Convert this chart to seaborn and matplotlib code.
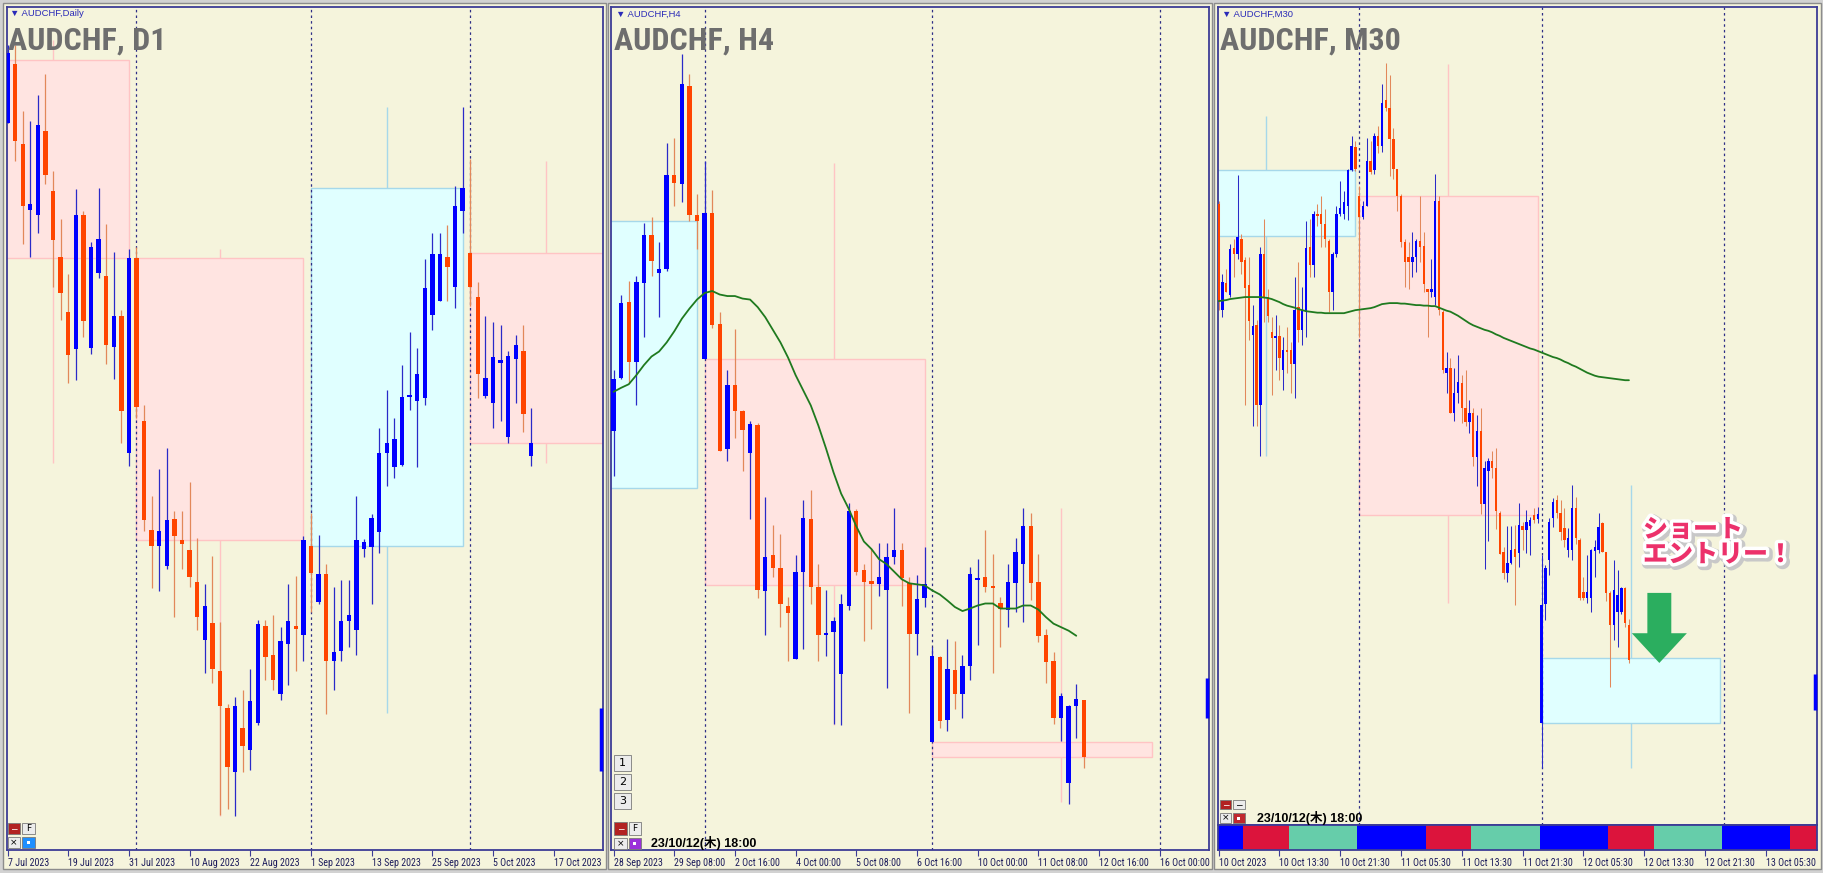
import numpy as np
import pandas as pd
import matplotlib
matplotlib.use("Agg")
import matplotlib.pyplot as plt
import matplotlib.patheffects as pe
from matplotlib import font_manager as fm
from matplotlib.patches import Rectangle, FancyArrow
import seaborn as sns

# 1. Candle data (prices in chart units)
# --- AUDCHF D1 (7 Jul .. 12 Oct 2023)
d1_open = [1435, 1552, 1393, 1262, 1252, 1419, 1300, 1170, 1060, 987,
           1252, 988, 1138, 1132, 990, 1052, 780, 1168, 845, 628,
           597, 557, 650, 607, 588, 524, 410, 443, 348, 274,
           148, 235, 192, 245, 437, 380, 302, 402, 437, 420,
           597, 485, 540, 368, 387, 448, 430, 590, 595, 623,
           780, 752, 757, 892, 883, 890, 1055, 1083, 1170, 1110,
           1260, 1177, 1090, 894, 880, 960, 813, 968, 983, 775]
d1_high = [1590, 1590, 1460, 1440, 1490, 1533, 1340, 1245, 1135, 1305,
           1260, 1200, 1307, 1235, 1180, 1065, 1185, 1190, 875, 695,
           748, 790, 665, 665, 723, 612, 520, 577, 445, 282,
           297, 310, 353, 450, 450, 460, 435, 520, 537, 615,
           662, 618, 560, 515, 528, 528, 695, 610, 660, 830,
           905, 850, 955, 1020, 988, 1165, 1218, 1218, 1232, 1310,
           1467, 1363, 1120, 1053, 1040, 1035, 982, 1015, 1035, 870]
d1_low = [1435, 1360, 1195, 1170, 1217, 1315, 1110, 1045, 920, 925,
          1010, 978, 1128, 957, 927, 800, 755, 850, 625, 513,
          507, 550, 455, 550, 515, 430, 345, 325, 62, 75,
          60, 148, 152, 240, 330, 310, 290, 320, 348, 368,
          465, 480, 262, 310, 368, 395, 380, 575, 480, 583,
          715, 730, 755, 865, 752, 875, 1025, 1082, 1083, 1068,
          1217, 1073, 890, 890, 830, 845, 800, 880, 822, 755]
d1_close = [1575, 1400, 1270, 1274, 1432, 1332, 1203, 1098, 975, 1252,
            1043, 1190, 1205, 995, 1053, 864, 1168, 872, 647, 597,
            625, 648, 615, 600, 535, 455, 477, 352, 278, 157,
            278, 200, 288, 442, 375, 330, 407, 448, 432, 608,
            542, 540, 368, 385, 448, 460, 607, 604, 652, 780,
            800, 808, 892, 895, 937, 1107, 1175, 1175, 1150, 1270,
            1307, 1110, 938, 929, 972, 965, 973, 995, 858, 800]
# monthly blocks drawn behind the daily candles
d1_blk_start = [-4, 17, 40, 61]
d1_blk_end = [16, 39, 60, 82]
d1_blk_mid = [6, 28, 50, 71]
d1_blk_open = [1560, 1168, 597, 1177]
d1_blk_high = [1600, 1185, 1467, 1360]
d1_blk_low = [760, 60, 265, 760]
d1_blk_close = [1168, 608, 1307, 800]
d1_seps = [17, 40, 61]
d1_edge = [150, 275]
d1_ticks = ["7 Jul 2023", "19 Jul 2023", "31 Jul 2023", "10 Aug 2023", "22 Aug 2023",
            "1 Sep 2023", "13 Sep 2023", "25 Sep 2023", "5 Oct 2023", "17 Oct 2023"]

# --- AUDCHF H4 (28 Sep .. 12 Oct)
h4_open = [825, 930, 1080, 962, 1117, 1213, 1138, 1145, 1332, 1315,
           1509, 1252, 967, 1257, 1037, 788, 915, 863, 780, 837,
           507, 578, 552, 478, 372, 545, 650, 515, 420, 425,
           342, 478, 665, 548, 527, 520, 508, 575, 588, 523,
           422, 492, 208, 375, 250, 350, 302, 357, 528, 535,
           517, 482, 470, 522, 560, 635, 525, 420, 367, 255,
           125, 278, 290]
h4_high = [945, 1095, 1122, 1132, 1237, 1248, 1200, 1395, 1405, 1572,
           1532, 1295, 1360, 1302, 1060, 945, 1027, 865, 845, 840,
           693, 638, 620, 495, 578, 688, 707, 560, 508, 455,
           500, 682, 670, 560, 590, 602, 602, 672, 602, 535,
           538, 595, 395, 378, 412, 408, 380, 555, 570, 628,
           580, 495, 560, 612, 672, 662, 580, 432, 385, 305,
           280, 322, 290]
h4_low = [735, 928, 920, 875, 1010, 1132, 1050, 1142, 1270, 1278,
          1240, 1185, 967, 1028, 785, 765, 810, 745, 650, 492,
          420, 535, 435, 368, 372, 392, 480, 367, 378, 242,
          240, 470, 538, 408, 432, 497, 315, 560, 478, 265,
          380, 475, 208, 235, 230, 272, 255, 330, 400, 505,
          345, 395, 435, 465, 445, 488, 405, 325, 242, 210,
          85, 215, 155]
h4_close = [928, 1078, 962, 1120, 1213, 1162, 1145, 1332, 1316, 1512,
            1252, 1240, 1257, 1035, 785, 915, 863, 827, 838, 508,
            575, 552, 480, 463, 545, 652, 515, 420, 423, 447,
            480, 665, 545, 525, 520, 535, 575, 588, 532, 422,
            490, 520, 378, 248, 352, 302, 358, 540, 532, 515,
            512, 472, 525, 585, 635, 523, 418, 365, 255, 298,
            278, 292, 178]
h4_ma = [902, 910, 917, 935, 955, 972, 982, 1000, 1022, 1047,
         1067, 1085, 1098, 1102, 1095, 1092, 1092, 1087, 1085, 1070,
         1050, 1025, 1000, 970, 935, 905, 875, 835, 790, 742,
         700, 670, 635, 605, 590, 570, 560, 545, 530, 522,
         520, 518, 508, 500, 488, 475, 467, 472, 478, 482,
         482, 472, 472, 472, 478, 478, 470, 455, 442, 435,
         428, 418, np.nan]
# weekly blocks
h4_blk_start = [-18, 12, 42]
h4_blk_end = [11, 41, 71]
h4_blk_mid = [-1, 29, 59]
h4_blk_open = [712, 967, 208]
h4_blk_high = [1572, 1355, 672]
h4_blk_low = [640, 240, 88]
h4_blk_close = [1240, 518, 178]
h4_seps = [12, 42, 72]
h4_edge = [255, 335]
h4_ticks = ["28 Sep 2023", "29 Sep 08:00", "2 Oct 16:00", "4 Oct 00:00", "5 Oct 08:00",
            "6 Oct 16:00", "10 Oct 00:00", "11 Oct 08:00", "12 Oct 16:00", "16 Oct 00:00"]

# --- AUDCHF M30 (10 Oct 05:30 .. 12 Oct 18:00)
m30_open = [1275, 1065, 1118, 1095, 1188, 1175, 1205, 1163, 1113, 1015,
            1035, 875, 1175, 1090, 1020, 1008, 1012, 945, 985, 985,
            958, 1070, 1025, 1060, 1190, 1153, 1255, 1255, 1235, 1202,
            1100, 1175, 1255, 1255, 1270, 1342, 1388, 1290, 1248, 1270,
            1360, 1342, 1410, 1390, 1480, 1465, 1403, 1345, 1290, 1200,
            1170, 1160, 1170, 1202, 1192, 1105, 1100, 1090, 1280, 1060,
            940, 950, 860, 900, 920, 870, 843, 860, 772, 825,
            680, 745, 765, 750, 662, 585, 542, 562, 590, 582,
            636, 628, 636, 658, 649, 244, 481, 568, 651, 687,
            661, 631, 588, 588, 671, 608, 505, 492, 492, 587,
            588, 641, 585, 502, 439, 466, 466, 512, 439]
m30_high = [1280, 1135, 1145, 1195, 1205, 1332, 1215, 1170, 1170, 1075,
            1045, 1190, 1245, 1105, 1050, 1055, 1035, 1010, 1030, 1000,
            1130, 1160, 1110, 1240, 1245, 1260, 1275, 1290, 1265, 1205,
            1180, 1270, 1320, 1300, 1345, 1410, 1400, 1310, 1280, 1405,
            1400, 1415, 1430, 1512, 1555, 1530, 1425, 1345, 1295, 1205,
            1200, 1220, 1205, 1290, 1220, 1105, 1165, 1335, 1290, 1065,
            980, 970, 950, 975, 935, 945, 885, 870, 855, 870,
            765, 770, 785, 790, 665, 595, 635, 635, 638, 681,
            644, 667, 654, 671, 674, 578, 558, 651, 691, 697,
            687, 671, 631, 717, 694, 611, 535, 578, 591, 608,
            661, 644, 585, 506, 568, 548, 515, 515, 452]
m30_low = [1065, 1050, 1100, 1090, 1130, 1165, 1135, 875, 1005, 835,
           835, 775, 1040, 1040, 895, 945, 925, 905, 940, 900,
           890, 1000, 995, 1010, 1130, 1130, 1230, 1190, 1190, 1060,
           1065, 1170, 1250, 1245, 1242, 1340, 1340, 1010, 1245, 1270,
           1335, 1335, 1375, 1378, 1460, 1330, 1325, 1260, 1190, 1110,
           1105, 1130, 1140, 1160, 1100, 1010, 1090, 1075, 1055, 940,
           900, 860, 845, 880, 840, 835, 820, 755, 715, 660,
           550, 605, 730, 630, 580, 530, 525, 560, 479, 555,
           588, 582, 578, 641, 641, 155, 449, 538, 634, 651,
           608, 595, 575, 568, 601, 489, 489, 482, 466, 535,
           582, 585, 486, 317, 410, 396, 462, 436, 363]
m30_close = [1080, 1120, 1100, 1185, 1175, 1210, 1160, 1108, 1043, 1032,
             875, 1175, 1090, 1052, 1008, 1012, 970, 985, 980, 958,
             1065, 1025, 1065, 1188, 1153, 1255, 1250, 1235, 1205, 1100,
             1175, 1255, 1267, 1278, 1342, 1390, 1345, 1248, 1270, 1360,
             1338, 1410, 1390, 1475, 1465, 1403, 1345, 1290, 1200, 1160,
             1160, 1170, 1202, 1190, 1115, 1100, 1105, 1280, 1065, 945,
             950, 860, 900, 922, 870, 843, 860, 772, 825, 680,
             750, 765, 750, 665, 580, 542, 562, 588, 575, 638,
             628, 644, 648, 648, 660, 479, 552, 644, 684, 661,
             624, 608, 611, 671, 611, 492, 492, 505, 588, 595,
             634, 585, 502, 439, 509, 499, 513, 444, 370]
m30_ma = [1082, 1083, 1084, 1086, 1087, 1088, 1089, 1090, 1090, 1090, 1090, 1090,
          1089, 1088, 1086, 1083, 1080, 1076, 1073, 1071, 1069, 1066, 1064, 1062,
          1061, 1060, 1059, 1059, 1058, 1058, 1058, 1058, 1058, 1058, 1060, 1062,
          1064, 1065, 1066, 1067, 1068, 1070, 1073, 1076, 1077, 1078, 1078, 1078,
          1077, 1077, 1076, 1075, 1074, 1074, 1073, 1073, 1072, 1072, 1069, 1066,
          1063, 1061, 1057, 1053, 1048, 1043, 1038, 1034, 1031, 1028, 1025, 1023,
          1020, 1016, 1013, 1009, 1006, 1003, 1000, 997, 994, 991, 988, 986,
          983, 980, 977, 974, 971, 969, 966, 962, 959, 955, 952, 948,
          944, 940, 937, 934, 932, 931, 930, 929, 928, 927, 926, 925, 925]
# daily blocks
m30_blk_start = [-11, 37, 85]
m30_blk_end = [36, 84, 132]
m30_blk_mid = [12.5, 60.5, 108.5]
m30_blk_open = [1212, 1290, 244]
m30_blk_high = [1450, 1552, 717]
m30_blk_low = [775, 482, 155]
m30_blk_close = [1342, 658, 373]
m30_seps = [37, 85, 133]
m30_edge = [271, 343]
m30_ticks = ["10 Oct 2023", "10 Oct 13:30", "10 Oct 21:30", "11 Oct 05:30", "11 Oct 13:30",
             "11 Oct 21:30", "12 Oct 05:30", "12 Oct 13:30", "12 Oct 21:30", "13 Oct 05:30"]
# trading sessions (hour of day) for the bar under the M30 chart
session_start = [0, 9, 15]
session_end = [9, 15, 24]
session_color = ["#0000FF", "#DC143C", "#66CDAA"]
m30_first_hour = 5.5
m30_days = [0, 1, 2, 3]

# 2. Style
W, H = 1824, 873
BEIGE = "#F5F4DC"
FRAME = "#3C3C96"
BULL, BULL_WICK = "#0000FF", "#2A2AC8"
BEAR, BEAR_WICK = "#FF4500", "#E2885A"
PINK, PINK_EDGE = "#FFE4E1", "#FFC4C4"
CYAN, CYAN_EDGE = "#E0FFFF", "#A6D8EA"
MA_COLOR = "#1F7A1F"

sns.set_theme(style="white")
plt.rcParams["font.family"] = ["Liberation Sans", "DejaVu Sans"]

# pick a narrow face for the MT4-style labels if one is installed
names = {f.name for f in fm.fontManager.ttflist}
COND, STRETCH = None, "normal"
for nm in ["Liberation Sans Narrow", "Roboto Condensed", "Open Sans Condensed",
           "Noto Sans Condensed", "DejaVu Sans Condensed"]:
    if nm in names:
        COND = nm
        break
if COND is None:
    for f in fm.fontManager.ttflist:
        if str(f.stretch) in ("condensed", "semi-condensed") and f.name in (
                "DejaVu Sans", "Noto Sans", "Open Sans", "Roboto", "Liberation Sans"):
            COND, STRETCH = f.name, "condensed"
            break
if COND is None:
    COND = "Liberation Sans"
    TICK_FS, TITLE_FS = 6.0, 20
else:
    TICK_FS, TITLE_FS = 7.2, 23

fig = plt.figure(figsize=(W / 100, H / 100), dpi=100, facecolor="#D2D2D2")


def box(x0, y0, x1, y1):
    return [x0 / W, 1 - y1 / H, (x1 - x0) / W, (y1 - y0) / H]


def px_rect(x0, y0, x1, y1, **kw):
    fig.add_artist(Rectangle((x0 / W, 1 - y1 / H), (x1 - x0) / W, (y1 - y0) / H,
                             transform=fig.transFigure, **kw))


def px_text(x, y, s, **kw):
    fig.text(x / W, 1 - y / H, s, **kw)


def candles(ax, o, h, l, c, body_w, wick_lw):
    df = pd.DataFrame({"open": o, "high": h, "low": l, "close": c})
    df["bar"] = np.arange(len(df))
    bull = df["close"] > df["open"]
    for mask, body, wick in [(bull, BULL, BULL_WICK), (~bull, BEAR, BEAR_WICK)]:
        part = df[mask]
        ax.vlines(part["bar"], part["low"], part["high"], colors=wick, lw=wick_lw, zorder=2)
        lo = part[["open", "close"]].min(axis=1)
        ht = (part["close"] - part["open"]).abs().clip(lower=3)
        ax.bar(part["bar"], ht, bottom=lo, width=body_w, color=body, lw=0, zorder=3)


def blocks(ax, start, end, mid, o, h, l, c):
    for s, e, m, bo, bh, bl, bc in zip(start, end, mid, o, h, l, c):
        face, edge = (CYAN, CYAN_EDGE) if bc > bo else (PINK, PINK_EDGE)
        ax.vlines(m, bl, bh, colors=edge, lw=1, zorder=0.5)
        ax.add_patch(Rectangle((s, min(bo, bc)), e - s, abs(bc - bo),
                               facecolor=face, edgecolor=edge, lw=1, zorder=0.6))


def ma_line(ax, ma):
    df = pd.DataFrame({"bar": np.arange(len(ma)), "ma": ma}).dropna()
    sns.lineplot(data=df, x="bar", y="ma", ax=ax, color=MA_COLOR, lw=1.3,
                 estimator=None, zorder=4)


def style_frame(ax):
    ax.set_facecolor(BEIGE)
    ax.set_yticks([])
    ax.set_xlabel("")
    ax.set_ylabel("")
    ax.grid(False)
    for sp in ax.spines.values():
        sp.set_color(FRAME)
        sp.set_linewidth(1.3)


def frame(ax, xlim, ylim, seps, edge):
    style_frame(ax)
    ax.set_xlim(*xlim)
    ax.set_ylim(*ylim)
    for s in seps:
        ax.axvline(s, color="#2E2E86", ls=(0, (2, 2.5)), lw=0.9, zorder=1)
    ax.plot([0.997, 0.997], edge, transform=ax.get_yaxis_transform(),
            color=BULL, lw=2.5, solid_capstyle="butt", zorder=5, clip_on=False)


def time_axis(ax, step, labels):
    ax.set_xticks(np.arange(len(labels)) * step)
    ax.set_xticklabels(labels, ha="left", fontsize=TICK_FS, color="#1C1C5C",
                       family=[COND, "DejaVu Sans"], fontstretch=STRETCH)
    ax.tick_params(axis="x", bottom=True, direction="out", length=4, width=0.8,
                   color=FRAME, pad=1.5)


# 3. Window backgrounds
for x0, x1 in [(3, 606), (608, 1212), (1214, 1821)]:
    px_rect(x0, 3, x1, 869, facecolor=BEIGE, edgecolor="#8C8C8C", lw=1, zorder=-1)

YL = (-7.1, 1665.5)

# D1
ax1 = fig.add_axes(box(7, 7, 603, 850))
blocks(ax1, d1_blk_start, d1_blk_end, d1_blk_mid, d1_blk_open, d1_blk_high, d1_blk_low, d1_blk_close)
candles(ax1, d1_open, d1_high, d1_low, d1_close, 0.58, 0.9)
frame(ax1, (-0.07, 78.5), YL, d1_seps, d1_edge)
time_axis(ax1, 8, d1_ticks)

# H4
ax2 = fig.add_axes(box(611, 7, 1209, 850))
blocks(ax2, h4_blk_start, h4_blk_end, h4_blk_mid, h4_blk_open, h4_blk_high, h4_blk_low, h4_blk_close)
candles(ax2, h4_open, h4_high, h4_low, h4_close, 0.58, 0.9)
ma_line(ax2, h4_ma)
frame(ax2, (-0.34, 78.5), YL, h4_seps, h4_edge)
time_axis(ax2, 8, h4_ticks)

# M30 + session bar
ax3 = fig.add_axes(box(1218, 7, 1817, 825))
blocks(ax3, m30_blk_start, m30_blk_end, m30_blk_mid, m30_blk_open, m30_blk_high, m30_blk_low, m30_blk_close)
candles(ax3, m30_open, m30_high, m30_low, m30_close, 0.65, 0.75)
ma_line(ax3, m30_ma)
frame(ax3, (-0.16, 157.5), (42.5, 1665.5), m30_seps, m30_edge)
ax3.set_xticks([])
ax3.tick_params(axis="x", bottom=False, labelbottom=False)
ax3.add_patch(FancyArrow(116, 503, 0, -139, width=6.3, head_width=14.5, head_length=59,
                         length_includes_head=True, color="#2BAE5F", lw=0, zorder=6))

ax4 = fig.add_axes(box(1218, 825, 1817, 850))
for d in m30_days:
    for s, e, col in zip(session_start, session_end, session_color):
        a = (d * 24 + s - m30_first_hour) * 2 - 0.5
        b = (d * 24 + e - m30_first_hour) * 2 - 0.5
        ax4.axvspan(a, b, color=col, lw=0)
style_frame(ax4)
ax4.set_xlim(-0.16, 157.5)
time_axis(ax4, 16, m30_ticks)

# 4. Titles and chart furniture
for x, sub, title in [(8, "AUDCHF,Daily", "AUDCHF, D1"), (614, "AUDCHF,H4", "AUDCHF, H4"),
                      (1220, "AUDCHF,M30", "AUDCHF, M30")]:
    px_text(x + 2, 14, "▼ " + sub, fontsize=6.8, color="#2B2BB8", va="center",
            family=["Liberation Sans", "DejaVu Sans"])
    px_text(x, 50, title, fontsize=TITLE_FS, fontweight="bold", color="#6E6E6E", va="baseline",
            family=[COND, "DejaVu Sans"], fontstretch=STRETCH)


def button(x0, y0, x1, y1, face, label="", tcolor="black", fs=6.5):
    px_rect(x0, y0, x1, y1, facecolor=face, edgecolor="#7A7A7A", lw=0.6, zorder=6)
    if label:
        px_text((x0 + x1) / 2, (y0 + y1) / 2, label, fontsize=fs, color=tcolor,
                ha="center", va="center", zorder=7, family=["DejaVu Sans"])


def dot_button(x0, y0, x1, y1, face):
    button(x0, y0, x1, y1, face)
    cx, cy = (x0 + x1) / 2, (y0 + y1) / 2
    px_rect(cx - 1.5, cy - 1.5, cx + 1.5, cy + 1.5, facecolor="white", lw=0, zorder=7)


# D1 buttons
button(8, 823, 20, 834, "#B22222", "−", "white")
button(22, 823, 35, 834, "#ECECEC", "F")
button(8, 837, 20, 848, "#ECECEC", "×")
dot_button(22, 837, 35, 848, "#1E8FFF")
# H4 buttons
for i, y0 in enumerate([755, 774, 793]):
    button(614, y0, 631, y0 + 16, "#ECECEC", str(i + 1), fs=8)
button(614, 822, 627, 835, "#B22222", "−", "white")
button(629, 822, 641, 835, "#ECECEC", "F")
button(614, 838, 627, 849, "#ECECEC", "×")
dot_button(629, 838, 641, 849, "#9B30D9")
# M30 buttons
button(1220, 800, 1231, 809, "#B22222", "−", "white")
button(1233, 800, 1245, 809, "#ECECEC", "−")
button(1220, 813, 1231, 823, "#ECECEC", "×")
dot_button(1233, 813, 1245, 823, "#C0282D")

stamp = "23/10/12(木) 18:00"
for x, y in [(651, 843), (1257, 818)]:
    px_text(x, y, stamp, fontsize=9, fontweight="bold", color="black", va="center",
            family=["Liberation Sans", "Noto Sans CJK JP"], zorder=7)

# 5. Annotation
px_text(1643, 516, "ショート\nエントリー！", fontsize=18, fontweight="black", color="#EC316B",
        va="top", ha="left", linespacing=0.95, family=["Noto Sans CJK JP"], zorder=8,
        path_effects=[pe.Stroke(linewidth=7, foreground="#C8C8C8", offset=(1.5, -1.5)),
                      pe.Stroke(linewidth=5, foreground="white"), pe.Normal()])

fig.savefig("out.png", dpi=100, facecolor=fig.get_facecolor())
